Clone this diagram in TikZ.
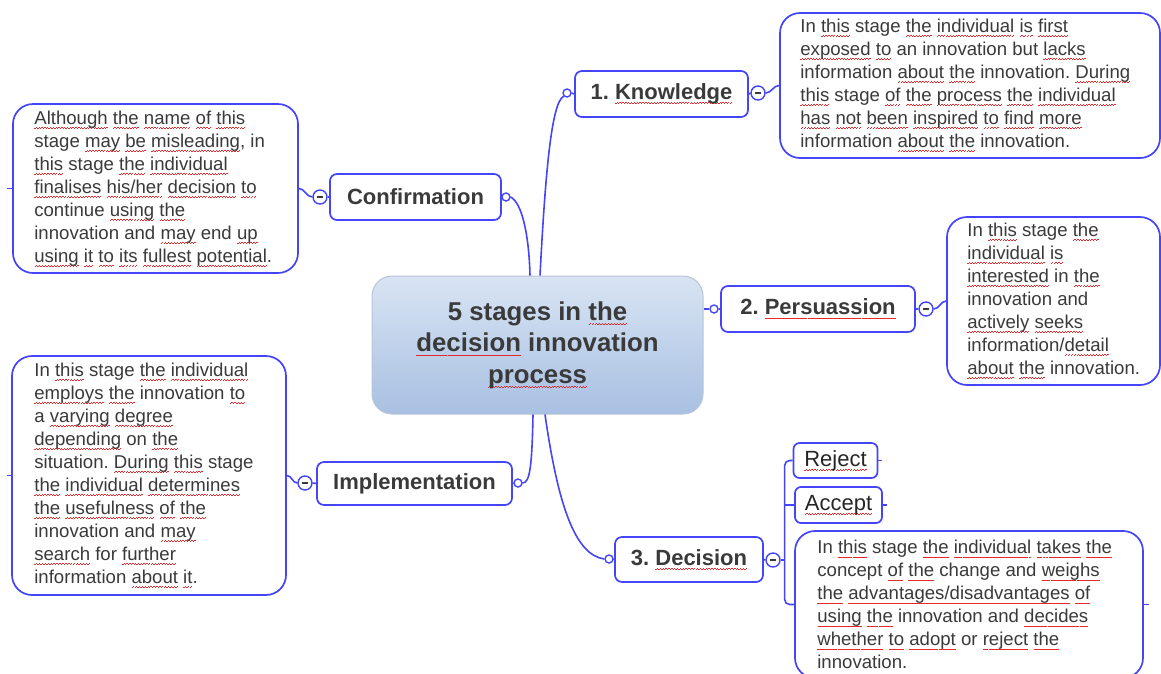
\documentclass[tikz,border=0pt]{standalone}
\usepackage{fontspec}
\setmainfont{Liberation Sans}
\frenchspacing
\definecolor{lineblue}{RGB}{68,68,248}
\definecolor{txtgray}{RGB}{58,58,58}
\definecolor{cborder}{RGB}{184,196,214}
\definecolor{ctop}{RGB}{216,228,243}
\definecolor{cbot}{RGB}{168,192,226}
\definecolor{spellred}{RGB}{232,40,40}
\newcommand{\minusbar}{\rule{6pt}{1.3pt}}
\newbox\sqbox
\newcommand{\wavebit}{\hbox{\rule[-4.4pt]{1.4pt}{0.75pt}\rule[-3.6pt]{1.4pt}{0.75pt}}}
\newcommand{\sq}[1]{\setbox\sqbox\hbox{#1}\leavevmode\rlap{\textcolor{spellred}{\hbox to \wd\sqbox{\xleaders\wavebit\hfill}}}\box\sqbox}
\tikzset{
  link/.style={draw=lineblue, line width=1.6pt},
  stagebox/.style={draw=lineblue, line width=1.7pt, rounded corners=7pt, fill=white,
    inner sep=0pt, text=txtgray, font=\bfseries\fontsize{22}{26}\selectfont},
  choicebox/.style={draw=lineblue, line width=1.7pt, rounded corners=6pt, fill=white,
    inner sep=0pt, text=black!85, font=\fontsize{22}{26}\selectfont},
  notebox/.style={draw=lineblue, line width=1.7pt, rounded corners=20pt, fill=white, inner sep=0pt},
  notetext/.style={anchor=west, align=left, inner sep=0pt, text=txtgray,
    font=\fontsize{18.6}{23}\selectfont},
  knob/.style={circle, draw=lineblue, line width=1.4pt, fill=white, minimum size=8pt, inner sep=0pt},
  minusknob/.style={circle, draw=lineblue, line width=1.4pt, fill=white, minimum size=14pt, inner sep=0pt,
    text=txtgray},
}
\begin{document}
\begin{tikzpicture}[x=1pt,y=-1pt]
\useasboundingbox (0,0) rectangle (1161,673);

% central topic
\node[draw=cborder, line width=1pt, rounded corners=20pt, top color=ctop, bottom color=cbot,
  minimum width=331pt, minimum height=138pt, align=center, text=txtgray,
  font=\bfseries\fontsize{25.8}{31.5}\selectfont] (c) at (537.5,345)
  {5 stages in \sq{the}\\\sq{decision} innovation\\\sq{process}};

% stage boxes
\node[stagebox, minimum width=173pt, minimum height=46pt] (kbox) at (661.5,94) {1. \sq{Knowledge}};
\node[stagebox, minimum width=171pt, minimum height=46pt] (cbox) at (415.5,197) {Confirmation};
\node[stagebox, minimum width=194pt, minimum height=46pt] (pbox) at (818,309) {2. \sq{Persuassion}};
\node[stagebox, minimum width=195pt, minimum height=43pt] (ibox) at (414.5,483.5) {Implementation};
\node[stagebox, minimum width=148pt, minimum height=45pt] (dbox) at (689,559.5) {3. \sq{Decision}};

% choice boxes
\node[choicebox, minimum width=84pt, minimum height=35pt] (rej) at (835.5,460.5) {\sq{Reject}};
\node[choicebox, minimum width=87pt, minimum height=36pt] (acc) at (838.5,505) {\sq{Accept}};

% note boxes
\node[notebox, minimum width=380pt, minimum height=145pt] (ktxtbox) at (970,85.5) {};
\node[notetext] (ktxt) at ([xshift=21pt]ktxtbox.west)
  {In \sq{this} stage \sq{the} \sq{individual} \sq{is} \sq{first}\\
   \sq{exposed} \sq{to} an innovation but \sq{lacks}\\
   information \sq{about} \sq{the} innovation. \sq{During}\\
   \sq{this} stage \sq{of} \sq{the} \sq{process} \sq{the} \sq{individual}\\
   \sq{has} \sq{not} \sq{been} \sq{inspired} \sq{to} \sq{find} \sq{more}\\
   information \sq{about} \sq{the} innovation.};

\node[notebox, minimum width=285pt, minimum height=169pt] (ctxtbox) at (155.5,188.5) {};
\node[notetext] (ctxt) at ([xshift=22pt]ctxtbox.west)
  {\sq{Although} \sq{the} \sq{name} \sq{of} \sq{this}\\
   stage \sq{may} \sq{be} \sq{misleading}, in\\
   \sq{this} stage \sq{the} \sq{individual}\\
   \sq{finalises} \sq{his/her} \sq{decision} \sq{to}\\
   continue \sq{using} \sq{the}\\
   innovation and \sq{may} end \sq{up}\\
   \sq{using} \sq{it} \sq{to} \sq{its} \sq{fullest} \sq{potential}.};

\node[notebox, minimum width=213pt, minimum height=168pt] (ptxtbox) at (1053.5,301) {};
\node[notetext] (ptxt) at ([xshift=21pt]ptxtbox.west)
  {In \sq{this} stage \sq{the}\\
   \sq{individual} \sq{is}\\
   \sq{interested} in \sq{the}\\
   innovation and\\
   \sq{actively} \sq{seeks}\\
   information/\sq{detail}\\
   \sq{about} \sq{the} innovation.};

\node[notebox, minimum width=274pt, minimum height=239pt] (itxtbox) at (149,475.5) {};
\node[notetext] (itxt) at ([xshift=23pt]itxtbox.west)
  {In \sq{this} stage \sq{the} \sq{individual}\\
   \sq{employs} \sq{the} innovation \sq{to}\\
   a \sq{varying} \sq{degree}\\
   \sq{depending} on \sq{the}\\
   situation. \sq{During} \sq{this} stage\\
   \sq{the} \sq{individual} \sq{determines}\\
   \sq{the} \sq{usefulness} \sq{of} \sq{the}\\
   innovation and \sq{may}\\
   \sq{search} for \sq{further}\\
   information \sq{about} \sq{it}.};

\node[notebox, minimum width=348pt, minimum height=147pt] (dtxtbox) at (969,604.5) {};
\node[notetext, anchor=north west] (dtxt) at ([xshift=23pt,yshift=-10pt]dtxtbox.north west)
  {In \sq{this} stage \sq{the} \sq{individual} \sq{takes} \sq{the}\\
   concept \sq{of} \sq{the} change and \sq{weighs}\\
   \sq{the} \sq{advantages/disadvantages} \sq{of}\\
   \sq{using} \sq{the} innovation and \sq{decides}\\
   \sq{whether} \sq{to} \sq{adopt} or \sq{reject} \sq{the}\\
   innovation.};

% knobs
\node[knob] (kc) at (567,93) {};
\node[knob] (cc) at (506,197) {};
\node[knob] (pc) at (714,309) {};
\node[knob] (ic) at (518,483) {};
\node[knob] (dc) at (609,559) {};
\node[minusknob] (km) at (758,93) {\minusbar};
\node[minusknob] (cm) at (320,197) {\minusbar};
\node[minusknob] (pm) at (926,309) {\minusbar};
\node[minusknob] (im) at (305,483) {\minusbar};
\node[minusknob] (dm) at (773,560) {\minusbar};

% links from the central topic
\draw[link] ([xshift=2.5pt]c.north) .. controls (545,180) and (551,102) .. (kc.south west);
\draw[link] ([xshift=-7.5pt]c.north) .. controls (529,235) and (522,203) .. (cc.east);
\draw[link] (c.east |- pc.west) -- (pc.west);
\draw[link] ([xshift=-4.5pt]c.south) .. controls (532,465) and (530,483) .. (ic.east);
\draw[link] ([xshift=7.5pt]c.south) .. controls (558,505) and (575,555) .. (dc.west);

% knobs to boxes
\draw[link] (kc.east) -- (kbox.west);
\draw[link] (cc.west) -- (cbox.east);
\draw[link] (pc.east) -- (pbox.west);
\draw[link] (ic.west) -- (ibox.east);
\draw[link] (dc.east) -- (dbox.west);
\draw[link] (kbox.east) -- (km.west);
\draw[link] (cbox.west) -- (cm.east);
\draw[link] (pbox.east) -- (pm.west);
\draw[link] (ibox.west) -- (im.east);
\draw[link] (dbox.east) -- (dm.west);

% minus knobs to notes
\draw[link] (km.east) to[out=0,in=180] (ktxtbox.west);
\draw[link] (cm.west) to[out=180,in=0] (ctxtbox.east);
\draw[link] (pm.east) to[out=0,in=180] (ptxtbox.west);
\draw[link] (im.west) to[out=180,in=0] (itxtbox.east);

% decision bracket
\draw[link, rounded corners=5pt] (rej.west) -- ++(-8,0) |- (dtxtbox.west);
\draw[link] (acc.west) -- ([xshift=-8pt]rej.west |- acc.west);
\draw[link] (dm.east) -- ([xshift=-8pt]rej.west |- dm.east);

% small stubs
\draw[link] (ctxtbox.west) -- ++(-5,0);
\draw[link] (itxtbox.west) -- ++(-4,0);
\draw[link] (rej.east) -- ++(4,0);
\draw[link] (acc.east) -- ++(4,0);
\draw[link] (dtxtbox.east) -- ++(5,0);
\end{tikzpicture}
\end{document}
